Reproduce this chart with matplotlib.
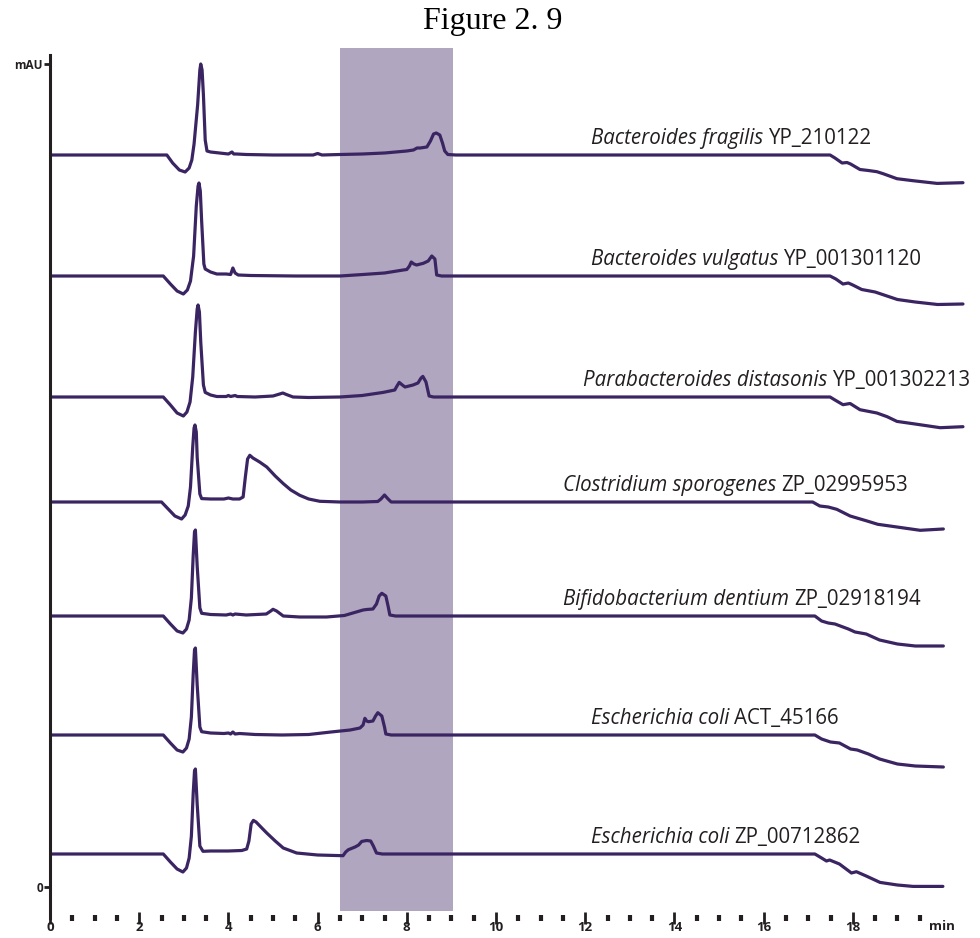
import numpy as np
import matplotlib
matplotlib.use("Agg")
import matplotlib.pyplot as plt
from matplotlib.ticker import FixedLocator

# species / accession labels, top to bottom
species = ["Bacteroides fragilis", "Bacteroides vulgatus", "Parabacteroides distasonis",
           "Clostridium sporogenes", "Bifidobacterium dentium", "Escherichia coli",
           "Escherichia coli"]
accessions = ["YP_210122", "YP_001301120", "YP_001302213", "ZP_02995953",
              "ZP_02918194", "ACT_45166", "ZP_00712862"]

# vertical offset of each trace baseline (same units as signal)
offsets = [732, 611, 490, 385, 271, 152, 33]

# retention time (min) / signal
t1 = [0, 2.62, 2.75, 2.9, 3.03, 3.12, 3.18, 3.23, 3.31, 3.36, 3.38, 3.41, 3.44, 3.48, 3.52, 3.6, 3.8, 4.0,
      4.08, 4.12, 4.18, 4.4, 5.0, 5.9, 6.0, 6.1, 6.5, 7.0, 7.5, 8.0, 8.15, 8.23, 8.3, 8.45, 8.53, 8.6,
      8.66, 8.74, 8.8, 8.85, 8.92, 9.1, 17.49, 17.6, 17.76, 17.87, 17.95, 18.16, 18.35, 18.54, 18.68,
      18.99, 19.35, 19.89, 20.47]
s1 = [0, 0, -8, -15, -17, -13, -5, 11, 50, 85, 91, 85, 60, 15, 4, 3, 2, 1,
      3, 1, 1, 0.5, 0, 0, 1.5, 0, 0.5, 1, 2, 4, 5, 7, 7, 8, 14, 21,
      22, 20, 12, 4, 0.5, 0, 0, -3, -8, -7.5, -9, -14.5, -15.5, -16.7, -18.7,
      -23.7, -25.7, -28.4, -27.7]

t2 = [0, 2.54, 2.7, 2.85, 2.99, 3.08, 3.15, 3.22, 3.28, 3.32, 3.34, 3.37, 3.4, 3.45, 3.48, 3.6, 3.74,
      3.95, 4.05, 4.1, 4.15, 4.22, 4.5, 5.5, 6.5, 6.95, 7.5, 7.92, 8.0, 8.06, 8.1, 8.16, 8.22, 8.37,
      8.48, 8.56, 8.63, 8.67, 8.78, 9.1, 17.49, 17.62, 17.78, 17.9, 18.0, 18.2, 18.5, 18.7, 19.0,
      19.4, 19.9, 20.47]
s2 = [0, 0, -8, -15, -18, -14, -5, 20, 70, 90, 93, 85, 55, 12, 7, 4, 2,
      2, 1.5, 8, 3, 1, 0.5, 0, 0, 1.3, 3, 6, 6.5, 10, 14, 12, 11, 12.7,
      15, 20, 17, 1, 0, 0, 0, -3, -8, -7, -9, -13.5, -16, -19, -23.5,
      -26, -28.5, -28]

t3 = [0, 2.54, 2.7, 2.85, 2.99, 3.07, 3.14, 3.2, 3.26, 3.3, 3.32, 3.35, 3.38, 3.44, 3.48, 3.6, 3.74,
      3.95, 4.0, 4.05, 4.15, 4.2, 4.6, 5.0, 5.15, 5.22, 5.3, 5.45, 5.8, 6.5, 7.0, 7.47, 7.73, 7.78,
      7.83, 7.9, 7.96, 8.14, 8.25, 8.32, 8.36, 8.43, 8.5, 8.6, 17.49, 17.6, 17.78, 17.94, 18.16,
      18.54, 18.77, 18.99, 19.35, 19.96, 20.47]
s3 = [0, 0, -8, -16, -19, -15, -5, 20, 65, 88, 92, 85, 55, 12, 4.6, 2, 0.5,
      0.5, 1.5, 0.5, 1.5, 0.5, 0, 1, 3, 4, 2.5, 0, -0.5, 0, 1.5, 4.6, 7, 11,
      14.6, 12, 10, 12, 14, 19, 20.6, 15, 1, 0, 0, -3, -7.7, -6.5, -12.7,
      -16, -19.7, -24.4, -26.7, -30.7, -29.7]

t4 = [0, 2.5, 2.65, 2.8, 2.95, 3.03, 3.1, 3.15, 3.2, 3.23, 3.25, 3.28, 3.3, 3.36, 3.4, 3.6, 3.9, 4.0,
      4.1, 4.25, 4.33, 4.38, 4.43, 4.48, 4.55, 4.7, 4.86, 5.05, 5.23, 5.4, 5.6, 5.8, 6.05, 6.5, 7.0,
      7.35, 7.42, 7.5, 7.58, 7.65, 8.0, 9.0, 17.1, 17.26, 17.45, 17.64, 17.94, 18.32, 18.56, 18.99,
      19.51, 20.03]
s4 = [0, 0, -7, -14, -17, -13, -4, 15, 55, 74, 77, 70, 45, 8, 3.4, 3, 3, 4,
      3, 3, 5, 25, 43, 46.7, 44, 40, 35, 26, 18.4, 12, 6.7, 3, 0.7, 0, 0,
      0.5, 3, 7, 3, 0, 0, 0, 0, -4, -5, -7.3, -14, -19, -22.3, -25,
      -28.3, -27]

t5 = [0, 2.54, 2.7, 2.85, 2.98, 3.06, 3.12, 3.17, 3.21, 3.24, 3.26, 3.3, 3.36, 3.4, 3.6, 3.95, 4.05,
      4.1, 4.15, 4.4, 4.85, 4.95, 5.0, 5.08, 5.23, 5.6, 6.2, 6.6, 7.02, 7.1, 7.24, 7.32, 7.38, 7.44,
      7.53, 7.58, 7.62, 7.75, 9.0, 17.15, 17.3, 17.45, 17.6, 17.9, 18.05, 18.3, 18.6, 19.0, 19.4,
      20.03]
s5 = [0, 0, -8, -15, -17, -13, -4, 18, 60, 84, 86, 50, 8, 2.7, 1.5, 1, 2,
      1, 2, 1, 2, 5, 6.7, 5, 0, -1, -1, 0.5, 6, 6.5, 7, 12, 20, 22.7,
      20, 10, 1, 0, 0, 0, -5, -7, -8, -13, -16, -18, -24, -28, -30,
      -30]

t6 = [0, 2.54, 2.7, 2.85, 2.98, 3.06, 3.12, 3.17, 3.21, 3.24, 3.26, 3.3, 3.36, 3.4, 3.6, 3.9, 4.0,
      4.05, 4.1, 4.15, 4.25, 4.6, 5.2, 5.8, 6.3, 6.73, 6.95, 7.02, 7.06, 7.1, 7.14, 7.24, 7.3, 7.35,
      7.44, 7.5, 7.53, 7.65, 9.0, 17.15, 17.3, 17.5, 17.7, 17.95, 18.1, 18.35, 18.6, 19.0, 19.4,
      20.03]
s6 = [0, 0, -8, -15, -17, -13, -4, 18, 60, 85, 87, 50, 8, 3.3, 2, 1.5, 2,
      1, 3, 1, 1.5, 0.5, 0, 0.5, 3, 5, 7, 10, 16.7, 14, 13.3, 14, 19, 22.3,
      19, 8, 1, 0, 0, 0, -4, -7, -8, -14, -15, -19, -24, -29, -31,
      -32]

t7 = [0, 2.54, 2.7, 2.85, 2.98, 3.06, 3.12, 3.17, 3.21, 3.24, 3.26, 3.3, 3.36, 3.43, 3.6, 4.0, 4.3,
      4.41, 4.46, 4.51, 4.56, 4.62, 4.75, 4.86, 5.05, 5.23, 5.53, 6.0, 6.57, 6.63, 6.69, 6.84, 6.92,
      6.99, 7.1, 7.19, 7.25, 7.32, 7.45, 9.0, 17.15, 17.3, 17.41, 17.48, 17.7, 17.97, 18.08, 18.3,
      18.61, 19.0, 19.35, 20.02]
s7 = [0, 0, -8, -15, -18, -14, -4, 18, 60, 83, 85, 50, 8, 2.7, 3, 3, 3.5,
      5, 13, 30, 33.6, 32, 26, 21, 13, 6, 1, -1, -1.7, 2, 4.3, 7, 9,
      12.6, 13.5, 13, 8, 1, 0, 0, 0, -4, -7, -6, -10, -19, -17.7, -22,
      -28.4, -31, -32.4, -32.4]

times = [t1, t2, t3, t4, t5, t6, t7]
signals = [s1, s2, s3, s4, s5, s6, s7]

# highlighted retention window (min)
window = (6.5, 9.03)

line_color = "#3a2562"
shade_color = "#b0a6c0"
axis_color = "#231f20"

fig = plt.figure(figsize=(9.8, 9.38), dpi=100)
W, H = 980, 938
ax = fig.add_axes([50 / W, (H - 918) / H, 915 / W, 870 / H])
ax.set_xlim(0, 915 / 44.6)
ax.set_ylim(-31, 839)

ax.axvspan(*window, ymin=7 / 870, ymax=1, color=shade_color, lw=0, zorder=0)

label_x = [12.13, 12.13, 11.95, 11.5, 11.5, 12.13, 12.13]
label_fs = 14.8
for t, s, off, sp, acc, lx in zip(times, signals, offsets, species, accessions, label_x):
    ax.plot(t, np.array(s) + off, color=line_color, lw=2.3, solid_joinstyle="round",
            solid_capstyle="round", zorder=2)
    txt = ax.text(lx, off + 11, sp, style="italic", family="Open Sans", fontsize=label_fs,
                  color="#231f20", ha="left", va="baseline")
    ax.annotate(acc, xy=(1, off + 11), xycoords=(txt, "data"), xytext=(3.6, 0),
                textcoords="offset points", family="Open Sans", fontsize=label_fs,
                color="#231f20", ha="left", va="baseline")

for side in ["top", "right", "bottom"]:
    ax.spines[side].set_visible(False)
ax.spines["left"].set_color(axis_color)
ax.spines["left"].set_linewidth(2.2)
ax.spines["left"].set_bounds(-31, 832)

ax.set_yticks([0, 823])
ax.set_yticklabels(["0", "mAU"])
ax.tick_params(axis="y", direction="out", length=4, width=2, color=axis_color, pad=1,
               labelsize=8.5, labelcolor=axis_color)

ax.set_xticks(np.arange(0, 19, 2))
ax.set_xticklabels([str(v) for v in range(0, 19, 2)])
ax.xaxis.set_minor_locator(FixedLocator(np.arange(0.5, 19.6, 0.5)))
ax.tick_params(axis="x", which="major", direction="inout", length=8, width=2, color=axis_color,
               pad=-2, labelsize=9.5, labelcolor=axis_color)
ax.tick_params(axis="x", which="minor", direction="inout", length=4.5, width=3, color=axis_color)
for lab in ax.get_xticklabels() + ax.get_yticklabels():
    lab.set_fontweight("bold")
    lab.set_family("Open Sans")
ax.text(20.0, -33, "min", fontsize=9.5, fontweight="bold", family="Open Sans",
        color=axis_color, ha="center", va="top")

fig.text(493 / W, 1 - 22 / H, "Figure 2. 9", family="Liberation Serif", fontsize=23,
         ha="center", va="center")

fig.savefig("out.png", dpi=100)
